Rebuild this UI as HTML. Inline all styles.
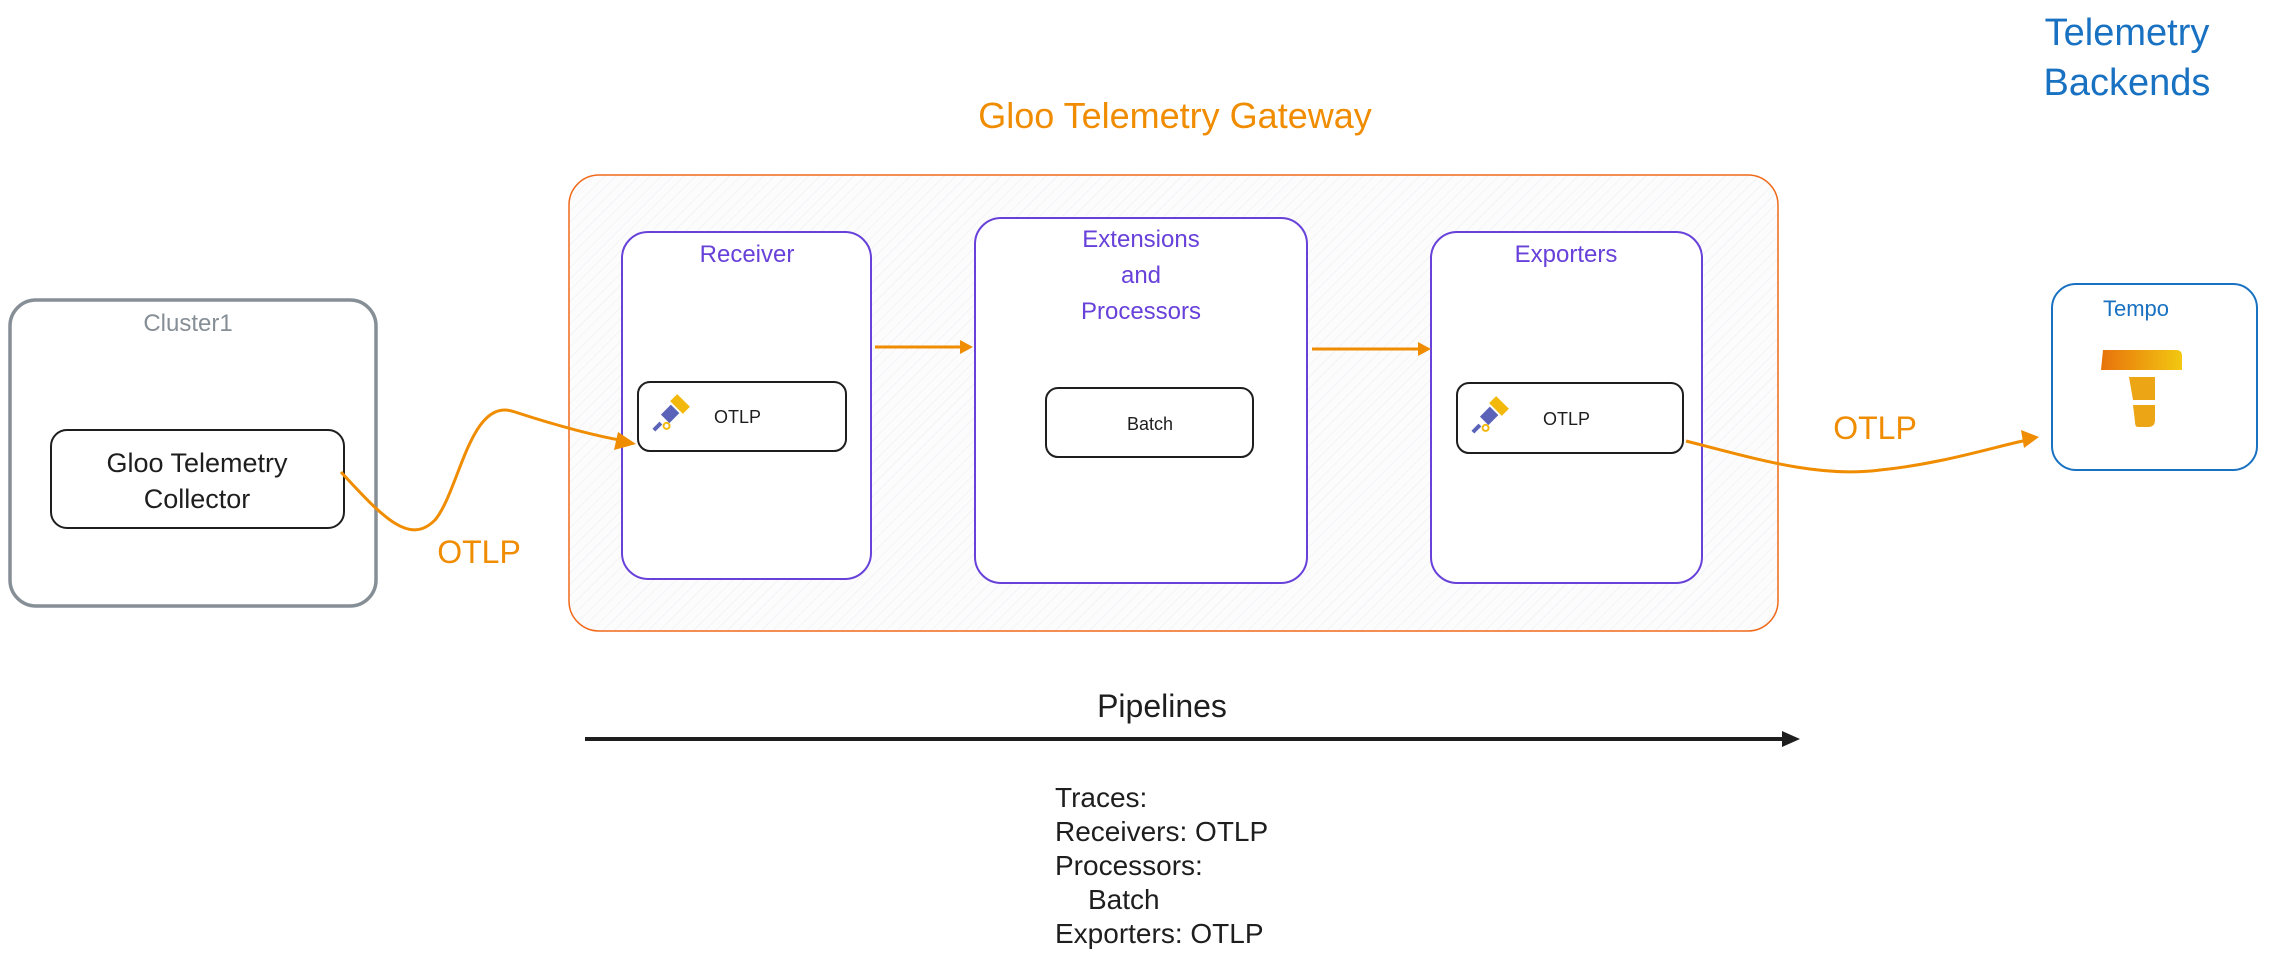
<!DOCTYPE html>
<html><head><meta charset="utf-8"><style>
html,body{margin:0;padding:0;background:#fff;}
svg{display:block;}
</style></head><body>
<svg width="2269" height="961" viewBox="0 0 2269 961" xmlns="http://www.w3.org/2000/svg" font-family="Liberation Sans, sans-serif">
<defs>
<pattern id="hatch" width="8" height="8" patternUnits="userSpaceOnUse" patternTransform="rotate(45)">
<rect width="8" height="8" fill="#fcfcfd"/><line x1="0" y1="0" x2="0" y2="8" stroke="#ececf2" stroke-width="1"/>
</pattern>
<linearGradient id="tg" x1="0" x2="1"><stop offset="0" stop-color="#e8720c"/><stop offset="1" stop-color="#f2c811"/></linearGradient>
</defs>

<!-- Titles -->
<text x="1175" y="128" text-anchor="middle" font-size="36" fill="#f08c00">Gloo Telemetry Gateway</text>
<text x="2127" y="45" text-anchor="middle" font-size="38" fill="#1971c2">Telemetry</text>
<text x="2127" y="95" text-anchor="middle" font-size="38" fill="#1971c2">Backends</text>

<!-- Cluster1 -->
<rect x="10" y="300" width="366" height="306" rx="26" fill="#fff" stroke="#868e96" stroke-width="3.5"/>
<text x="188" y="331" text-anchor="middle" font-size="24" fill="#868e96">Cluster1</text>
<rect x="51" y="430" width="293" height="98" rx="16" fill="#fff" stroke="#1e1e1e" stroke-width="2"/>
<text x="197" y="472" text-anchor="middle" font-size="27" fill="#1e1e1e">Gloo Telemetry</text>
<text x="197" y="508" text-anchor="middle" font-size="27" fill="#1e1e1e">Collector</text>

<!-- Gateway -->
<rect x="569" y="175" width="1209" height="456" rx="30" fill="url(#hatch)" stroke="#f06a1a" stroke-width="1.5"/>

<!-- Receiver -->
<rect x="622" y="232" width="249" height="347" rx="26" fill="#fff" stroke="#6741d9" stroke-width="2"/>
<text x="747" y="262" text-anchor="middle" font-size="24" fill="#6741d9">Receiver</text>
<rect x="638" y="382" width="208" height="69" rx="12" fill="#fff" stroke="#1e1e1e" stroke-width="2"/>
<g transform="translate(668,416) rotate(-45)">
<rect x="-4" y="-6" width="14" height="12" fill="#5a63b8"/><rect x="12" y="-9" width="10" height="18" fill="#f2b90c"/><circle cx="-8" cy="6" r="3" fill="none" stroke="#f2b90c" stroke-width="2"/><rect x="-20" y="-2" width="10" height="4" fill="#5a63b8"/>
</g>
<text x="714" y="423" font-size="18" fill="#1e1e1e">OTLP</text>

<!-- Extensions -->
<rect x="975" y="218" width="332" height="365" rx="26" fill="#fff" stroke="#6741d9" stroke-width="2"/>
<text x="1141" y="247" text-anchor="middle" font-size="24" fill="#6741d9">Extensions</text>
<text x="1141" y="283" text-anchor="middle" font-size="24" fill="#6741d9">and</text>
<text x="1141" y="319" text-anchor="middle" font-size="24" fill="#6741d9">Processors</text>
<rect x="1046" y="388" width="207" height="69" rx="12" fill="#fff" stroke="#1e1e1e" stroke-width="2"/>
<text x="1150" y="430" text-anchor="middle" font-size="18" fill="#1e1e1e">Batch</text>

<!-- Exporters -->
<rect x="1431" y="232" width="271" height="351" rx="26" fill="#fff" stroke="#6741d9" stroke-width="2"/>
<text x="1566" y="262" text-anchor="middle" font-size="24" fill="#6741d9">Exporters</text>
<rect x="1457" y="383" width="226" height="70" rx="12" fill="#fff" stroke="#1e1e1e" stroke-width="2"/>
<g transform="translate(1487,418) rotate(-45)">
<rect x="-4" y="-6" width="14" height="12" fill="#5a63b8"/><rect x="12" y="-9" width="10" height="18" fill="#f2b90c"/><circle cx="-8" cy="6" r="3" fill="none" stroke="#f2b90c" stroke-width="2"/><rect x="-20" y="-2" width="10" height="4" fill="#5a63b8"/>
</g>
<text x="1543" y="425" font-size="18" fill="#1e1e1e">OTLP</text>

<!-- Inner arrows -->
<g stroke="#f08c00" stroke-width="3" fill="none">
<line x1="875" y1="347" x2="965" y2="347"/>
<line x1="1312" y1="349" x2="1423" y2="349"/>
</g>
<polygon points="973,347 960,340 960,354" fill="#f08c00"/>
<polygon points="1431,349 1418,342 1418,356" fill="#f08c00"/>

<!-- Tempo -->
<rect x="2052" y="284" width="205" height="186" rx="24" fill="#fff" stroke="#1971c2" stroke-width="2"/>
<text x="2136" y="316" text-anchor="middle" font-size="22" fill="#1971c2">Tempo</text>
<path d="M2103 350 H2176 Q2182 350 2182 356 V370 H2101 Z" fill="url(#tg)"/>
<path d="M2129 377 H2155 V400 H2133 Z" fill="#eca514"/>
<path d="M2133 405 H2155 V420 Q2155 427 2148 427 H2138 Q2135 427 2135 422 Z" fill="#eca514"/>

<!-- Curves -->
<path d="M341 472 C 385 520, 410 545, 435 520 C 460 490, 470 395, 515 412 C 555 425, 590 435, 625 441" stroke="#f08c00" stroke-width="3" fill="none"/>
<polygon points="636,444 618,432 614,450" fill="#f08c00"/>
<path d="M1686 441 C 1760 460, 1820 478, 1880 470 C 1940 464, 1990 448, 2027 440" stroke="#f08c00" stroke-width="3" fill="none"/>
<polygon points="2039,437 2021,430 2024,448" fill="#f08c00"/>
<text x="479" y="563" text-anchor="middle" font-size="32" fill="#f08c00">OTLP</text>
<text x="1875" y="439" text-anchor="middle" font-size="32" fill="#f08c00">OTLP</text>

<!-- Pipelines -->
<text x="1162" y="717" text-anchor="middle" font-size="32" fill="#1e1e1e">Pipelines</text>
<line x1="585" y1="739" x2="1785" y2="739" stroke="#1e1e1e" stroke-width="4"/>
<polygon points="1800,739 1782,731 1782,747" fill="#1e1e1e"/>
<g font-size="28" fill="#1e1e1e">
<text x="1055" y="807">Traces:</text>
<text x="1055" y="841">Receivers: OTLP</text>
<text x="1055" y="875">Processors:</text>
<text x="1088" y="909">Batch</text>
<text x="1055" y="943">Exporters: OTLP</text>
</g>
</svg>
</body></html>
